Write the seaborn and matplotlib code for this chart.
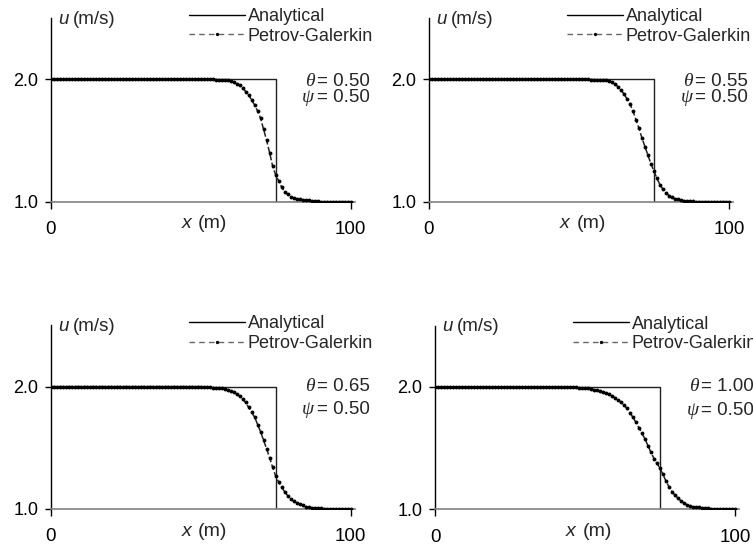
import numpy as np
import pandas as pd
import seaborn as sns
import matplotlib.pyplot as plt
from matplotlib.lines import Line2D

# data
x_num = list(range(0, 101))
x_ana = [0, 75, 75, 100]
u_ana = [2.0, 2.0, 1.0, 1.0]

thetas = ['0.50', '0.55', '0.65', '1.00']
psi = '0.50'

# numerical u at x = 0..100 (1 m spacing)
u_050 = [2.0] * 54 + [2.0, 1.998, 1.996, 1.995, 1.993, 1.99, 1.985, 1.975, 1.965, 1.95,
                      1.93, 1.90, 1.87, 1.83, 1.79, 1.74, 1.68, 1.59, 1.50, 1.40,
                      1.29, 1.22, 1.17, 1.12, 1.08, 1.06, 1.04, 1.03, 1.025, 1.02,
                      1.015, 1.012, 1.01, 1.007, 1.005, 1.003] + [1.0] * 11
u_055 = [2.0] * 53 + [1.999, 1.998, 1.997, 1.996, 1.995, 1.993, 1.99, 1.985, 1.975, 1.96,
                      1.94, 1.91, 1.88, 1.84, 1.80, 1.74, 1.67, 1.60, 1.52, 1.45,
                      1.38, 1.31, 1.25, 1.19, 1.14, 1.10, 1.07, 1.05, 1.035, 1.025,
                      1.018, 1.012, 1.008, 1.005, 1.003, 1.002] + [1.0] * 12
u_065 = [2.0] * 51 + [1.998, 1.996, 1.994, 1.992, 1.99, 1.988, 1.985, 1.98, 1.975, 1.965,
                      1.955, 1.94, 1.92, 1.895, 1.87, 1.83, 1.79, 1.75, 1.69, 1.63,
                      1.56, 1.49, 1.42, 1.34, 1.27, 1.22, 1.18, 1.14, 1.11, 1.08,
                      1.065, 1.05, 1.04, 1.03, 1.02, 1.016, 1.012, 1.01, 1.007, 1.005,
                      1.003, 1.002] + [1.0] * 8
u_100 = [2.0] * 46 + [1.998, 1.996, 1.994, 1.992, 1.99, 1.987, 1.983, 1.978, 1.972, 1.965,
                      1.958, 1.95, 1.94, 1.928, 1.912, 1.895, 1.875, 1.85, 1.825, 1.79,
                      1.75, 1.71, 1.665, 1.62, 1.575, 1.52, 1.465, 1.415, 1.375, 1.335,
                      1.285, 1.23, 1.185, 1.145, 1.115, 1.09, 1.07, 1.05, 1.037, 1.027,
                      1.02, 1.017, 1.015, 1.012, 1.01, 1.008, 1.006, 1.004, 1.003, 1.002] + [1.0] * 5
u_num = [u_050, u_055, u_065, u_100]

sns.set_style("ticks")
plt.rcParams['font.family'] = ['Liberation Sans', 'DejaVu Sans']

fig = plt.figure(figsize=(7.53, 5.47), dpi=100)
# axes boxes in figure fractions
boxes = [[0.0673, 0.6313, 0.4035, 0.3357],
         [0.5697, 0.6313, 0.4035, 0.3357],
         [0.0673, 0.0695, 0.4035, 0.3357],
         [0.5777, 0.0689, 0.4035, 0.3357]]
theta_y = [(1.985, 1.855), (1.985, 1.855), (2.0, 1.81), (2.0, 1.81)]

for i in range(4):
    ax = fig.add_axes(boxes[i])
    df = pd.DataFrame({'x': x_num, 'u': u_num[i]})
    sns.lineplot(data=df, x='x', y='u', ax=ax, color='#222222', linestyle='--', lw=1.1,
                 marker='o', markersize=2.8, markeredgewidth=0, markerfacecolor='k',
                 estimator=None, sort=False, zorder=3)
    sns.lineplot(x=x_ana, y=u_ana, ax=ax, color='#202020', lw=1.0, estimator=None, sort=False, zorder=2)

    ax.set_xlim(0, 101.3)
    ax.set_ylim(1.0, 2.5)
    ax.set_xticks([0, 100])
    ax.set_yticks([1.0, 2.0])
    ax.set_yticklabels(['1.0', '2.0'])
    ax.set_xlabel('')
    ax.set_ylabel('')
    sns.despine(ax=ax)
    ax.spines['left'].set_color('k')
    ax.spines['bottom'].set_color('#808080')
    ax.spines['left'].set_linewidth(1.0)
    ax.spines['bottom'].set_linewidth(1.2)
    ax.tick_params(axis='y', direction='out', length=4, width=1, pad=5, labelsize=13, colors='k')
    ax.tick_params(axis='x', direction='out', length=5, width=1, pad=9, labelsize=13.5, colors='k')

    # x label level with tick labels
    ax.text(0.463, -0.12, 'x', transform=ax.transAxes, ha='right', va='center',
            fontsize=14, style='italic')
    ax.text(0.485, -0.12, '(m)', transform=ax.transAxes, ha='left', va='center', fontsize=14)

    # y label at top of axis
    yt = ax.get_yaxis_transform()
    ax.text(0.024, 2.49, 'u', transform=yt, ha='left', va='center', fontsize=13.5, style='italic')
    ax.text(0.073, 2.49, '(m/s)', transform=yt, ha='left', va='center', fontsize=13.5)

    # parameters
    ty, py = theta_y[i]
    ax.text(0.868, ty, 'θ', transform=yt, ha='right', va='center', fontsize=14,
            family='Liberation Serif', style='italic', clip_on=False)
    ax.text(0.875, ty, '= ' + thetas[i], transform=yt, ha='left', va='center',
            fontsize=13.5, clip_on=False)
    ax.text(0.868, py, 'ψ', transform=yt, ha='right', va='center', fontsize=14,
            family='Liberation Serif', style='italic', clip_on=False)
    ax.text(0.875, py, '= ' + psi, transform=yt, ha='left', va='center',
            fontsize=13.5, clip_on=False)

    handles = [Line2D([], [], color='k', lw=1.0),
               Line2D([], [], color='#666666', lw=1.0, linestyle=(0, (4, 3)), marker='o',
                      markersize=2.4, markerfacecolor='k', markeredgewidth=0)]
    ax.legend(handles, ['Analytical', 'Petrov-Galerkin'], loc='upper left',
              bbox_to_anchor=(0.455, 1.055), frameon=False, fontsize=13,
              handlelength=3.1, handletextpad=0.15, labelspacing=0.15,
              borderpad=0, borderaxespad=0, numpoints=1)

plt.savefig('out.png', dpi=100)
